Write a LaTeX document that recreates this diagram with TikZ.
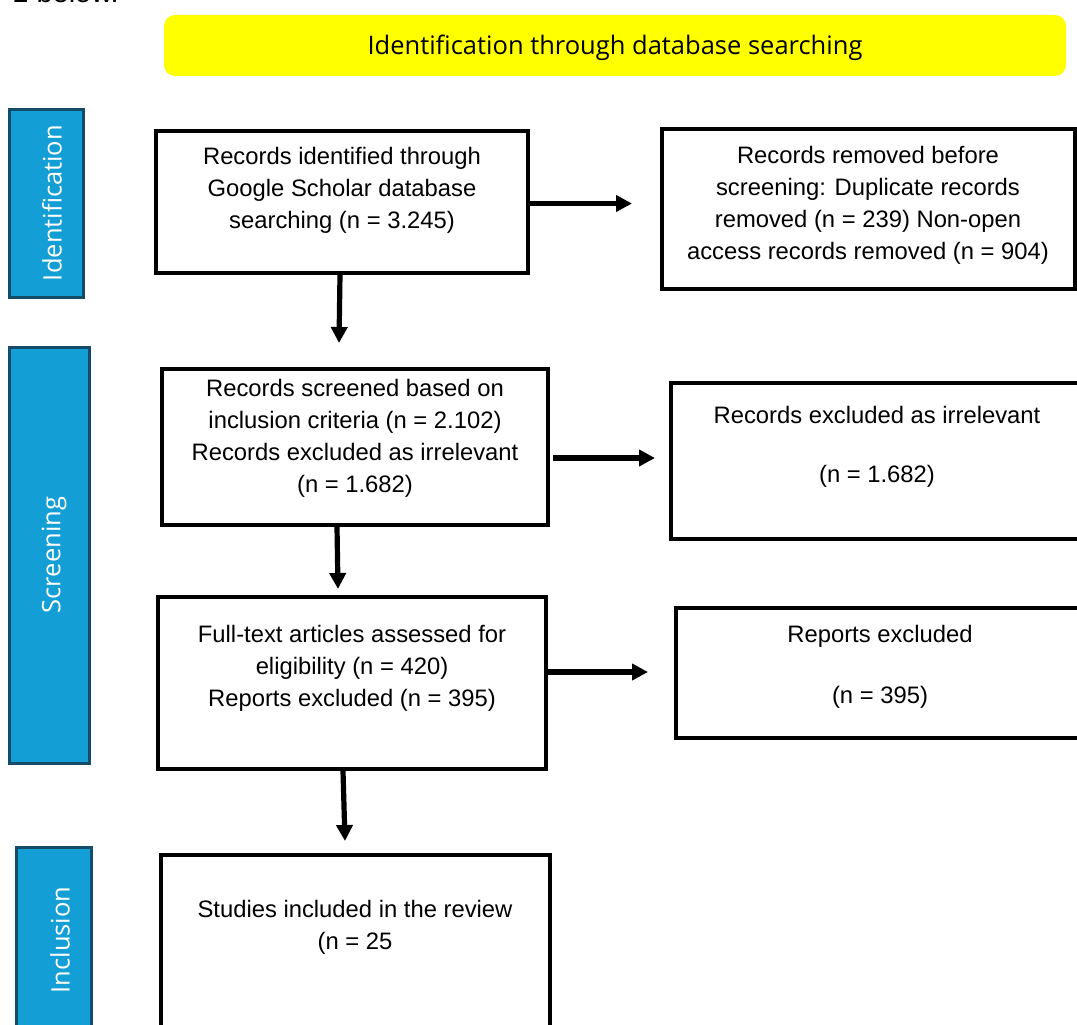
\documentclass[tikz,border=0pt]{standalone}
\usepackage{fontspec}
\setmainfont{Liberation Sans}
\newfontfamily\sidefont{Open Sans}
\usetikzlibrary{arrows.meta}
\definecolor{barfill}{RGB}{19,158,214}
\definecolor{barline}{RGB}{18,76,104}
\definecolor{bannery}{RGB}{255,255,0}
\tikzset{
  box/.style={draw=black, line width=3.8pt, inner sep=0pt, fill=white},
  boxtext/.style={align=center, inner sep=0pt, font=\fontsize{23.8}{32}\selectfont},
  bar/.style={draw=barline, fill=barfill, line width=3pt, inner sep=0pt},
  bartext/.style={rotate=90, text=white, inner sep=0pt, font=\sidefont\fontsize{25.5}{30}\selectfont},
  arr/.style={line width=5.2pt, -{Triangle[length=16pt,width=16pt]}},
}
\begin{document}
\begin{tikzpicture}[x=1pt,y=-1pt]
\useasboundingbox (0,0) rectangle (1077,1025);
\clip (0,0) rectangle (1077,1025);
% clipped body text at top
\node[anchor=base east, inner sep=0pt, font=\fontsize{29}{34}\selectfont] (prev) at (119,2.5) {1 below.};
% banner
\node[fill=bannery, rounded corners=11pt, minimum width=902pt, minimum height=61pt, inner sep=0pt] (banner) at (615,45.5) {};
\node[inner sep=0pt, font=\sidefont\fontsize{25.5}{30}\selectfont] (bannertext) at (615,48) {Identification through database searching};
% side bars
\node[bar, minimum width=74pt, minimum height=188pt] (s1) at (46,203) {};
\node[bartext] (s1t) at (52,203) {Identification};
\node[bar, minimum width=80pt, minimum height=416pt] (s2) at (49,555) {};
\node[bartext] (s2t) at (54,555) {Screening};
\node[bar, minimum width=75pt, minimum height=200pt] (s3) at (53.5,947) {};
\node[bartext] (s3t) at (60,940) {Inclusion};
% boxes
\node[box, minimum width=372pt, minimum height=142pt] (b1) at (342,202) {};
\node[boxtext] (t1) at (342,190) {Records identified through\\Google Scholar database\\searching (n = 3.245)};
\node[box, minimum width=413pt, minimum height=160pt] (b2) at (868.5,209) {};
\node[boxtext] (t2) at (868,205) {Records removed before\\screening: Duplicate records\\removed (n = 239) Non-open\\access records removed (n = 904)};
\node[box, minimum width=386pt, minimum height=156pt] (b3) at (355,447) {};
\node[boxtext] (t3) at (355,438) {Records screened based on\\inclusion criteria (n = 2.102)\\Records excluded as irrelevant\\(n = 1.682)};
\node[box, minimum width=414pt, minimum height=156pt] (b4) at (878,461) {};
\node[boxtext] (t4) at (877,446.5) {Records excluded as irrelevant\\[27pt](n = 1.682)};
\node[box, minimum width=388pt, minimum height=172pt] (b5) at (352,683) {};
\node[boxtext] (t5) at (352,668) {Full-text articles assessed for\\eligibility (n = 420)\\Reports excluded (n = 395)};
\node[box, minimum width=409pt, minimum height=130pt] (b6) at (880.5,673) {};
\node[boxtext] (t6) at (880,666.5) {Reports excluded\\[29pt](n = 395)};
\node[box, minimum width=389pt, minimum height=185pt] (b7) at (355.5,947.5) {};
\node[boxtext] (t7) at (355,927) {Studies included in the review\\(n = 25};
% arrows
\coordinate (a1e) at (632,203.5);
\draw[arr] ([yshift=-1.5pt]b1.east) -- (a1e);
\coordinate (a2e) at (339,343);
\draw[arr] ([xshift=-2pt]b1.south) -- (a2e);
\coordinate (a3s) at (553,458);
\coordinate (a3e) at (655,458);
\draw[arr] (a3s) -- (a3e);
\coordinate (a4e) at (338,589);
\draw[arr] ([xshift=-18pt]b3.south) -- (a4e);
\coordinate (a5e) at (648,672);
\draw[arr] ([yshift=11pt]b5.east) -- (a5e);
\coordinate (a6e) at (345,841);
\draw[arr] ([xshift=-9pt]b5.south) -- (a6e);
\end{tikzpicture}
\end{document}
